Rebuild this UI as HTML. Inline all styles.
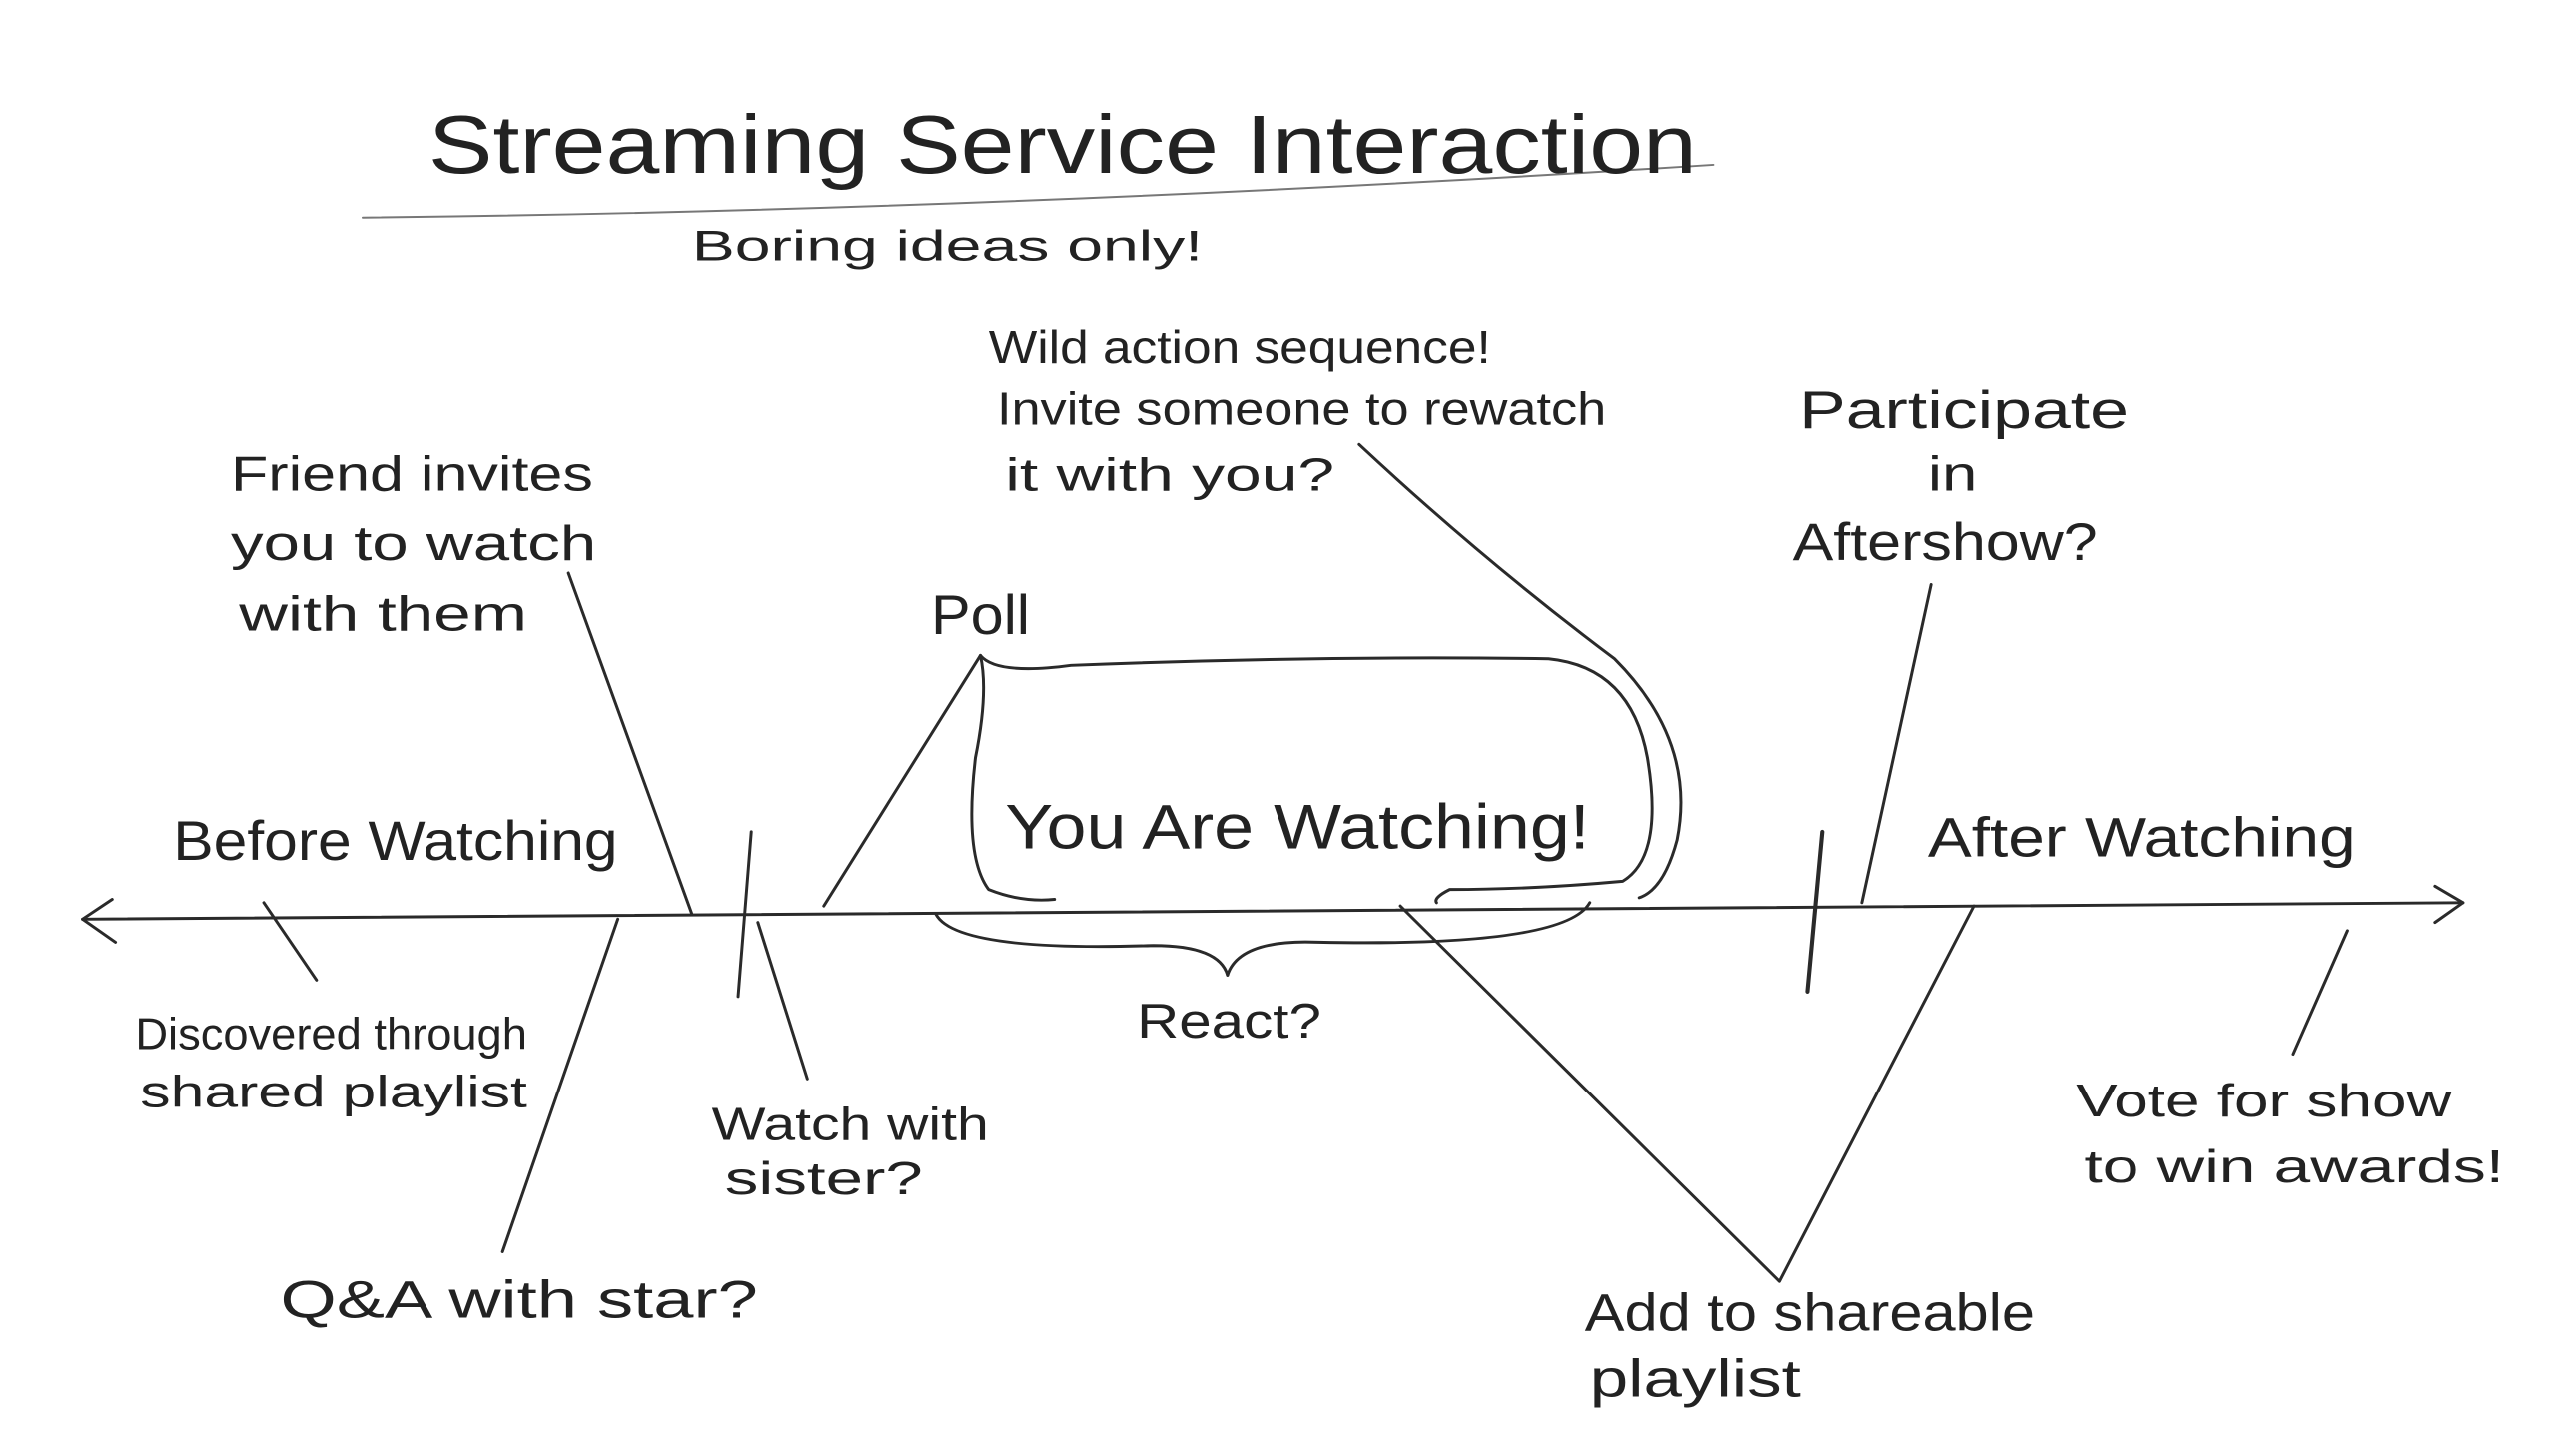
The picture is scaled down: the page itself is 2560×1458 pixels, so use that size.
<!DOCTYPE html>
<html><head><meta charset="utf-8"><style>
html,body{margin:0;padding:0;background:#fff;}
svg{display:block;}
text{font-family:"Liberation Sans",sans-serif;fill:#222;}
</style></head><body>
<svg width="2560" height="1458" viewBox="0 0 1552 884" xmlns="http://www.w3.org/2000/svg">
<g fill="none" stroke="#2a2a2a" stroke-width="1.8" stroke-linecap="round" stroke-linejoin="round">
<!-- title underline -->
<path d="M220 132 Q600 128 1040 100" stroke="#777" stroke-width="1.2"/>
<!-- main axis -->
<path d="M50 558 Q700 552 1495 548"/>
<path d="M68 546 L50 558 L70 572"/>
<path d="M1478 538 L1495 548 L1478 560"/>
<!-- dividers -->
<path d="M456 505 L448 605"/>
<path d="M1106 505 L1097 602" stroke-width="2.5"/>
<!-- watching blob -->
<path d="M500 550 L595 398"/>
<path d="M595 398 Q605 410 650 404 Q800 398 940 400 Q990 405 1000 460 Q1010 520 985 535 Q930 540 880 540 Q870 545 872 548"/>
<path d="M595 398 Q600 420 592 460 Q585 520 600 540 Q620 548 640 546"/>
<!-- big loop -->
<path d="M825 270 Q900 340 980 400 Q1030 450 1018 510 Q1010 540 995 545"/>
<!-- brace React -->
<path d="M568 555 Q580 578 700 574 Q740 574 745 592"/>
<path d="M745 592 Q752 570 800 572 Q950 575 965 548"/>
<!-- V -->
<path d="M850 550 L1080 778 L1198 550"/>
<!-- connector lines -->
<path d="M345 348 L420 555"/>
<path d="M160 548 L192 595"/>
<path d="M305 760 L375 558"/>
<path d="M460 560 L490 655"/>
<path d="M1172 355 L1130 548"/>
<path d="M1425 565 L1392 640"/>
</g>
<g>
<text x="260" y="105" font-size="50" textLength="770" lengthAdjust="spacingAndGlyphs">Streaming  Service  Interaction</text>
<text x="420" y="158" font-size="26" textLength="310" lengthAdjust="spacingAndGlyphs">Boring  ideas  only!</text>
<text x="105" y="522" font-size="34" textLength="270" lengthAdjust="spacingAndGlyphs">Before  Watching</text>
<text x="1170" y="520" font-size="34" textLength="260" lengthAdjust="spacingAndGlyphs">After  Watching</text>
<text x="610" y="515" font-size="38" textLength="355" lengthAdjust="spacingAndGlyphs">You  Are  Watching!</text>
<text x="140" y="298" font-size="30" textLength="220" lengthAdjust="spacingAndGlyphs">Friend  invites</text>
<text x="140" y="340" font-size="30" textLength="222" lengthAdjust="spacingAndGlyphs">you  to  watch</text>
<text x="145" y="383" font-size="30" textLength="175" lengthAdjust="spacingAndGlyphs">with  them</text>
<text x="565" y="385" font-size="34" textLength="60" lengthAdjust="spacingAndGlyphs">Poll</text>
<text x="600" y="220" font-size="28" textLength="305" lengthAdjust="spacingAndGlyphs">Wild  action  sequence!</text>
<text x="605" y="258" font-size="28" textLength="370" lengthAdjust="spacingAndGlyphs">Invite  someone  to  rewatch</text>
<text x="610" y="298" font-size="28" textLength="200" lengthAdjust="spacingAndGlyphs">it  with  you?</text>
<text x="1092" y="260" font-size="32" textLength="200" lengthAdjust="spacingAndGlyphs">Participate</text>
<text x="1170" y="298" font-size="30" textLength="30" lengthAdjust="spacingAndGlyphs">in</text>
<text x="1088" y="340" font-size="32" textLength="185" lengthAdjust="spacingAndGlyphs">Aftershow?</text>
<text x="82" y="637" font-size="27" textLength="238" lengthAdjust="spacingAndGlyphs">Discovered  through</text>
<text x="85" y="672" font-size="27" textLength="235" lengthAdjust="spacingAndGlyphs">shared  playlist</text>
<text x="432" y="692" font-size="28" textLength="168" lengthAdjust="spacingAndGlyphs">Watch  with</text>
<text x="440" y="725" font-size="28" textLength="120" lengthAdjust="spacingAndGlyphs">sister?</text>
<text x="170" y="800" font-size="32" textLength="290" lengthAdjust="spacingAndGlyphs">Q&amp;A  with  star?</text>
<text x="690" y="630" font-size="30" textLength="112" lengthAdjust="spacingAndGlyphs">React?</text>
<text x="962" y="808" font-size="32" textLength="273" lengthAdjust="spacingAndGlyphs">Add  to  shareable</text>
<text x="965" y="848" font-size="32" textLength="128" lengthAdjust="spacingAndGlyphs">playlist</text>
<text x="1260" y="678" font-size="28" textLength="228" lengthAdjust="spacingAndGlyphs">Vote  for  show</text>
<text x="1265" y="718" font-size="28" textLength="255" lengthAdjust="spacingAndGlyphs">to  win  awards!</text>
</g>
</svg>
</body></html>
